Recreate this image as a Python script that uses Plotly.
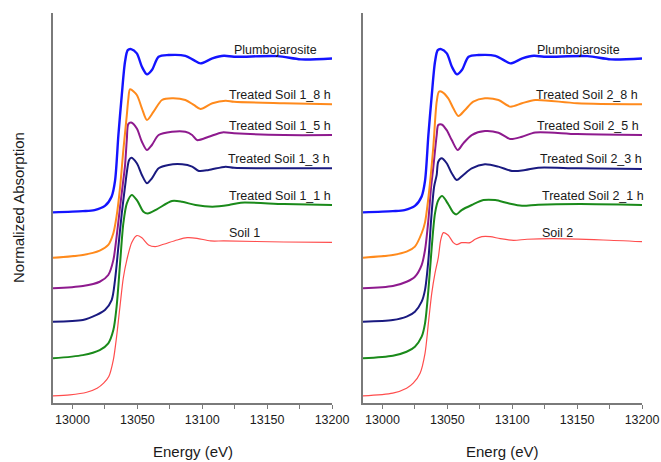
import plotly.graph_objects as go

# ---------------- data (normalized absorption) ----------------
SERIES_NAMES = ["Soil", "1 h", "3 h", "5 h", "8 h", "Plumbojarosite"]
OFFSETS = [0.046, 0.291, 0.530, 0.747, 0.947, 1.242]
COLORS = ["#ff4d4d", "#1a8a1a", "#1a1a80", "#8e1a8e", "#ff8a1c", "#1414ff"]
WIDTHS = [1.2, 2.0, 2.0, 2.0, 2.0, 2.4]

LEFT_LABELS = ["Soil 1", "Treated Soil 1_1 h", "Treated Soil 1_3 h",
               "Treated Soil 1_5 h", "Treated Soil 1_8 h", "Plumbojarosite"]
RIGHT_LABELS = ["Soil 2", "Treated Soil 2_1 h", "Treated Soil 2_3 h",
                "Treated Soil 2_5 h", "Treated Soil 2_8 h", "Plumbojarosite"]
LEFT_LABEL_X = [13119.4, 13118.8, 13118.0, 13118.8, 13118.8, 13122.7]
RIGHT_LABEL_X = [13121.7, 13121.1, 13119.6, 13117.2, 13117.0, 13117.2]

TICK_VALS = [13000, 13050, 13100, 13150, 13200]
TICK_TEXT = ["13000", "13050", "13100", "13150", "13200"]

E_PLUMBO = [12985, 13008, 13017, 13025, 13030.2, 13032.8, 13035.4, 13038, 13040.5, 13042.6,
            13045.2, 13049.6, 13053.5, 13057.4, 13061.2, 13066.4, 13074, 13087, 13093.5,
            13098.7, 13107.8, 13116.7, 13124.5, 13158, 13176, 13200]
MU_PLUMBO = [0, 0.008, 0.015, 0.042, 0.104, 0.205, 0.504, 0.764, 0.981, 1.057,
             1.064, 1.036, 0.949, 0.899, 0.927, 1.014, 1.025, 1.02, 0.992,
             0.971, 1.003, 1.02, 1.014, 1.018, 0.997, 1.003]

# Left panel (Soil 1)
E_S1 = [12985, 12998, 13011, 13019, 13024, 13028, 13031.5, 13034, 13036.7, 13039.2, 13042,
        13045.7, 13049.6, 13053.5, 13058.6, 13063.8, 13070.2, 13080.6, 13088.4, 13096, 13106.4,
        13116.7, 13163, 13200]
MU_S1 = [0, 0.007, 0.024, 0.05, 0.083, 0.126, 0.235, 0.386, 0.59, 0.77, 0.89,
         1.0, 1.045, 1.03, 0.984, 0.973, 0.988, 1.016, 1.031, 1.027, 1.01,
         1.01, 1.003, 1.001]

E_T1_1 = [12985, 13008, 13021, 13027.6, 13031.5, 13034, 13036.7, 13039.2, 13041.9, 13045.7, 13050,
          13054.7, 13058, 13065, 13076.7, 13084.5, 13094.8, 13107.8, 13120.6, 13129.7, 13163, 13200]
MU_T1_1 = [0, 0.021, 0.054, 0.098, 0.184, 0.336, 0.621, 0.879, 1.01, 1.064, 1.026,
           0.955, 0.943, 0.971, 1.025, 1.02, 0.999, 0.988, 0.999, 1.014, 1.005, 0.999]

E_T1_3 = [12985, 13008, 13018.6, 13025, 13030.2, 13032.8, 13035.4, 13038, 13040.5, 13042, 13043.5,
          13045.2, 13049.6, 13053.5, 13057.4, 13061.2, 13066.4, 13074, 13084.5, 13092.2, 13097.4,
          13105, 13118, 13124.5, 13163, 13200]
MU_T1_3 = [0, 0.011, 0.044, 0.076, 0.141, 0.272, 0.489, 0.706, 0.879, 0.98, 1.05,
           1.068, 1.032, 0.956, 0.902, 0.934, 0.999, 1.021, 1.025, 1.01, 0.982,
           0.988, 1.01, 1.003, 0.999, 0.999]

E_T1_5 = [12985, 13008, 13021, 13027.6, 13031.5, 13034, 13036.7, 13039.2, 13040.5, 13041.9, 13043,
          13045.2, 13049.6, 13053.5, 13057.4, 13061.2, 13066.4, 13076.7, 13087, 13092.2, 13096,
          13105, 13115.5, 13124.5, 13163, 13200]
MU_T1_5 = [0, 0.015, 0.043, 0.087, 0.184, 0.336, 0.532, 0.706, 0.80, 0.97, 1.07,
           1.081, 1.042, 0.955, 0.901, 0.934, 0.999, 1.02, 1.02, 0.999, 0.966,
           0.988, 1.016, 1.01, 0.999, 0.999]

E_T1_8 = [12985, 13008, 13021, 13027.6, 13031.5, 13034, 13036.7, 13039.2, 13041.9, 13043, 13044.4,
          13049.6, 13053.5, 13057.4, 13062.5, 13069, 13076.7, 13087, 13093.5, 13098.7, 13107.8,
          13118, 13124.5, 13163, 13200]
MU_T1_8 = [0, 0.018, 0.046, 0.083, 0.159, 0.27, 0.46, 0.70, 0.93, 1.03, 1.097,
           1.06, 0.973, 0.897, 0.951, 1.027, 1.038, 1.027, 0.995, 0.969, 1.006,
           1.023, 1.016, 1.006, 0.999]

# Right panel (Soil 2)
E_S2 = [12985, 13008, 13018.6, 13023.7, 13029, 13032.8, 13035.4, 13038, 13040.5, 13043, 13045,
        13047, 13050.7, 13054.6, 13057.2, 13061.1, 13067.5, 13071.4, 13076.6, 13083, 13090.7,
        13101, 13111.4, 13132, 13170, 13200]
MU_S2 = [0, 0.018, 0.05, 0.083, 0.148, 0.278, 0.474, 0.67, 0.80, 0.90, 1.02,
         1.064, 1.047, 0.999, 0.986, 0.999, 0.999, 1.021, 1.038, 1.038, 1.025,
         1.014, 1.021, 1.025, 1.016, 1.005]

E_T2_1 = [12985, 13008, 13018.6, 13025, 13030.2, 13032.8, 13035.4, 13038, 13040.5, 13043.1, 13046,
          13050.7, 13054.7, 13057, 13061, 13068.8, 13077.8, 13086.9, 13097, 13107.5, 13120, 13152.6, 13200]
MU_T2_1 = [0, 0.017, 0.043, 0.076, 0.141, 0.228, 0.445, 0.727, 0.945, 1.031, 1.057,
           1.004, 0.949, 0.938, 0.966, 0.999, 1.031, 1.031, 1.01, 0.994, 1.001, 1.005, 0.999]

E_T2_3 = [12985, 13008, 13018.6, 13025, 13030.2, 13032.8, 13035.4, 13037.5, 13039.8, 13041.8, 13043,
          13045.6, 13049.5, 13053.4, 13057.2, 13062.3, 13068.8, 13079, 13089.4, 13099.8, 13110,
          13120, 13150, 13200]
MU_T2_3 = [0, 0.011, 0.033, 0.065, 0.13, 0.207, 0.402, 0.663, 0.879, 0.956, 1.042,
           1.065, 1.032, 0.967, 0.923, 0.956, 0.999, 1.025, 1.01, 0.982, 0.988,
           1.003, 0.999, 0.995]

E_T2_5 = [12985, 13008, 13018.6, 13025, 13030.2, 13032.8, 13035.4, 13037.5, 13039.1, 13041.8, 13043,
          13045.6, 13049.5, 13053.4, 13058, 13062.3, 13068.8, 13079, 13089.4, 13098.5, 13107.5,
          13117.8, 13150, 13200]
MU_T2_5 = [0, 0.015, 0.043, 0.076, 0.152, 0.25, 0.445, 0.662, 0.782, 0.999, 1.064,
           1.068, 1.031, 0.966, 0.901, 0.945, 0.999, 1.025, 1.014, 0.973, 0.988,
           1.016, 1.005, 0.999]

E_T2_8 = [12985, 13008, 13018.6, 13025, 13030.2, 13032.8, 13035.8, 13039.1, 13041.8, 13043.5, 13045.6,
          13050.7, 13054.6, 13058.5, 13063.6, 13070, 13079, 13089.4, 13098.5, 13107.5, 13117.8,
          13150, 13200]
MU_T2_8 = [0, 0.018, 0.039, 0.072, 0.159, 0.23, 0.42, 0.713, 1.016, 1.081, 1.081,
           1.038, 0.973, 0.923, 0.962, 1.016, 1.038, 1.027, 0.984, 1.006, 1.027,
           1.006, 0.999]

LEFT_DATA = [(E_S1, MU_S1), (E_T1_1, MU_T1_1), (E_T1_3, MU_T1_3),
             (E_T1_5, MU_T1_5), (E_T1_8, MU_T1_8), (E_PLUMBO, MU_PLUMBO)]
RIGHT_DATA = [(E_S2, MU_S2), (E_T2_1, MU_T2_1), (E_T2_3, MU_T2_3),
              (E_T2_5, MU_T2_5), (E_T2_8, MU_T2_8), (E_PLUMBO, MU_PLUMBO)]

# ---------------- figure ----------------
FONT = "Liberation Sans, Arial, sans-serif"
TEXT_COLOR = "#1a1a1a"
AXIS_COLOR = "#7a7a7a"
LABEL_GAP = 1.06

fig = go.Figure()
annotations = []

for panel, (data, labels, label_x) in enumerate([(LEFT_DATA, LEFT_LABELS, LEFT_LABEL_X),
                                                  (RIGHT_DATA, RIGHT_LABELS, RIGHT_LABEL_X)]):
    xa = "x" if panel == 0 else "x2"
    ya = "y" if panel == 0 else "y2"
    for i, (e, mu) in enumerate(data):
        fig.add_trace(go.Scatter(
            x=e, y=[v + OFFSETS[i] for v in mu],
            mode="lines", xaxis=xa, yaxis=ya,
            line=dict(color=COLORS[i], width=WIDTHS[i], shape="spline", smoothing=0.8),
            showlegend=False, hoverinfo="skip",
        ))
        annotations.append(dict(
            x=label_x[i], y=OFFSETS[i] + LABEL_GAP, xref=xa, yref=ya,
            text=labels[i], showarrow=False, xanchor="left", yanchor="middle",
            font=dict(family=FONT, size=12.5, color=TEXT_COLOR),
        ))

# axis titles
annotations.append(dict(x=-0.0594, y=0.5, xref="paper", yref="paper", text="Normalized Absorption",
                        textangle=-90, showarrow=False, xanchor="center", yanchor="middle",
                        font=dict(family=FONT, size=15, color=TEXT_COLOR)))
annotations.append(dict(x=0.2369, y=-0.125, xref="paper", yref="paper", text="Energy (eV)",
                        showarrow=False, xanchor="center", yanchor="middle",
                        font=dict(family=FONT, size=15, color=TEXT_COLOR)))
annotations.append(dict(x=0.7631, y=-0.125, xref="paper", yref="paper", text="Energ (eV)",
                        showarrow=False, xanchor="center", yanchor="middle",
                        font=dict(family=FONT, size=15, color=TEXT_COLOR)))

xcommon = dict(range=[12985, 13200], showline=True, linecolor=AXIS_COLOR, linewidth=1.5,
               showgrid=False, zeroline=False, ticks="outside", ticklen=4, tickwidth=1,
               tickcolor=AXIS_COLOR, tickvals=TICK_VALS, ticktext=TICK_TEXT, automargin=False,
               tickfont=dict(family=FONT, size=12.5, color=TEXT_COLOR),
               minor=dict(dtick=25, tick0=13000, ticks="outside", ticklen=4, tickwidth=1,
                          tickcolor=AXIS_COLOR, showgrid=False))
ycommon = dict(range=[0, 2.541], showline=True, linecolor=AXIS_COLOR, linewidth=1.5,
               showgrid=False, zeroline=False, ticks="", showticklabels=False, automargin=False)

fig.update_layout(
    width=661, height=462,
    margin=dict(l=53, r=19, t=13, b=59),
    paper_bgcolor="white", plot_bgcolor="white",
    xaxis=dict(domain=[0, 0.4737], anchor="y", **xcommon),
    xaxis2=dict(domain=[0.5263, 1], anchor="y2", **xcommon),
    yaxis=dict(domain=[0, 1], anchor="x", **ycommon),
    yaxis2=dict(domain=[0, 1], anchor="x2", **ycommon),
    annotations=annotations,
    font=dict(family=FONT, color=TEXT_COLOR),
)

fig.write_html("out.html", config={"displayModeBar": False},
               post_script="document.body.style.margin='0';document.body.style.overflow='hidden';")
